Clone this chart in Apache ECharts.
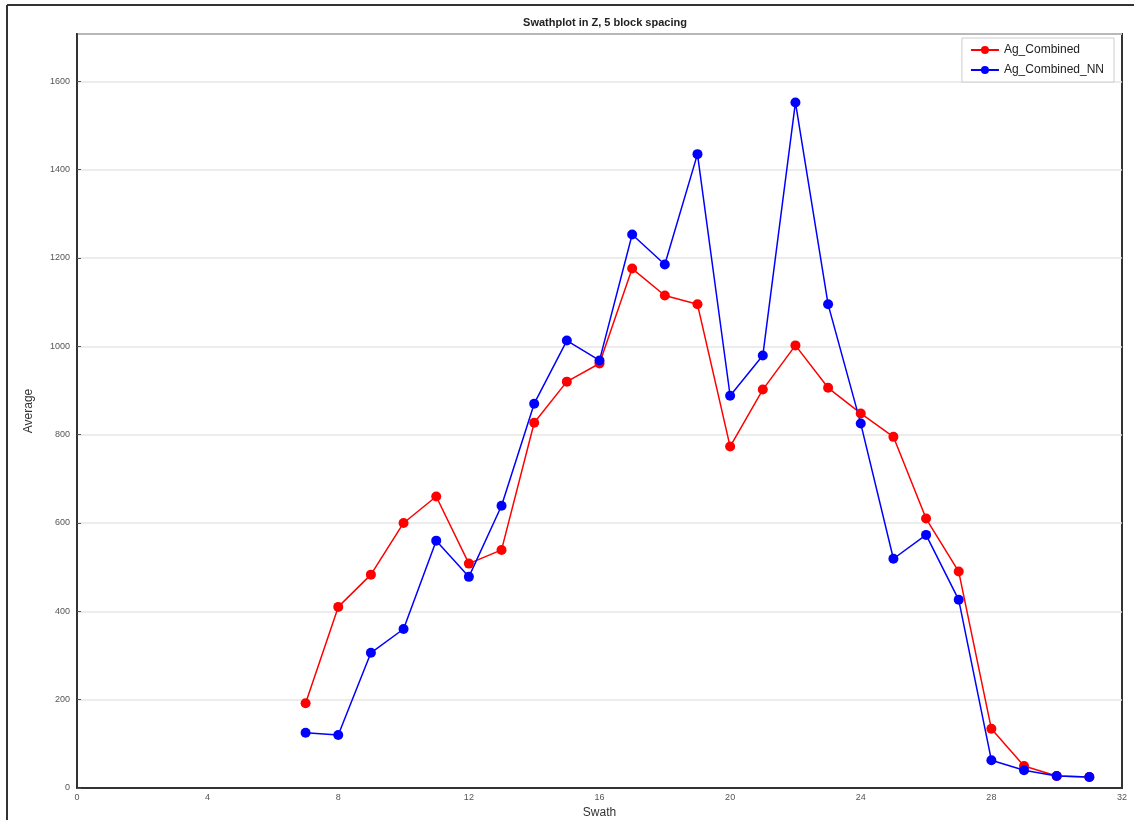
<!DOCTYPE html>
<html>
<head>
<meta charset="utf-8">
<script src="https://cdn.jsdelivr.net/npm/echarts@6/dist/echarts.min.js"></script>
<style>
html,body{margin:0;padding:0;background:#fff;}
#main{width:1134px;height:820px;}
</style>
</head>
<body>
<div id="main"></div>
<script>
const swath = [7,8,9,10,11,12,13,14,15,16,17,18,19,20,21,22,23,24,25,26,27,28,29,30,31];
const agCombined = [192,410,483,600,660,508,539,827,920,961,1176,1115,1095,773,902,1002,906,848,795,610,490,134,50,27,25];
const agCombinedNN = [125,120,306,360,560,478,639,870,1013,968,1253,1185,1435,888,979,1552,1095,825,519,573,426,63,40,27,25];
const xTicks = [0,4,8,12,16,20,24,28,32];
const yTicks = [0,200,400,600,800,1000,1200,1400,1600];

const chart = echarts.init(document.getElementById('main'), null, {renderer:'canvas'});
const pairs = (xs, ys) => xs.map((x,i)=>[x, ys[i]]);
const font = 'Liberation Sans, Arial, sans-serif';
chart.setOption({
  animation:false,
  backgroundColor:'#fff',
  title:{
    text:'Swathplot in Z, 5 block spacing',
    left:600, textAlign:'center', top:12,
    textStyle:{fontSize:11,fontWeight:'bold',color:'#222',fontFamily:font}
  },
  legend:{
    orient:'vertical', right:20, top:38,
    itemWidth:28, itemHeight:10, itemGap:8,
    padding:[6,10,6,8],
    borderColor:'#ccc', borderWidth:1,
    backgroundColor:'#fff',
    textStyle:{fontSize:12,color:'#222',fontFamily:font},
    data:['Ag_Combined','Ag_Combined_NN']
  },
  grid:{left:77,right:12,top:34,bottom:32,show:true,borderColor:'#333',borderWidth:2,outerBoundsMode:'none',containLabel:false},
  xAxis:{
    type:'value', min:0, max:32, interval:4,
    name:'Swath', nameLocation:'middle', nameGap:19,
    nameTextStyle:{fontSize:12,color:'#333',fontFamily:font},
    axisLine:{lineStyle:{color:'#333',width:2}},
    axisTick:{show:false},
    axisLabel:{fontSize:9,color:'#555',margin:5,fontFamily:font,formatter:v=>String(v)},
    splitLine:{show:false}
  },
  yAxis:{
    type:'value', min:0, max:1707, interval:200,
    name:'Average', nameLocation:'middle', nameGap:42, nameRotate:90,
    nameTextStyle:{fontSize:12,color:'#333',fontFamily:font},
    axisLine:{lineStyle:{color:'#333',width:2}},
    axisTick:{show:true,inside:true,length:4,lineStyle:{color:'#555'}},
    axisLabel:{fontSize:9,color:'#555',margin:7,showMaxLabel:false,fontFamily:font,formatter:v=>String(v)},
    splitLine:{show:true,lineStyle:{color:'#e6e6e6',width:1.5}}
  },
  series:[
    {name:'Ag_Combined',type:'line',data:pairs(swath,agCombined),
     symbol:'circle',symbolSize:10,lineStyle:{color:'#ff0000',width:1.5},
     itemStyle:{color:'#ff0000'}},
    {name:'Ag_Combined_NN',type:'line',data:pairs(swath,agCombinedNN),
     symbol:'circle',symbolSize:10,lineStyle:{color:'#0000ff',width:1.5},
     itemStyle:{color:'#0000ff'}}
  ],
  graphic:[
    {type:'line',shape:{x1:7,y1:5,x2:1134,y2:5},style:{stroke:'#333',lineWidth:2}},
    {type:'line',shape:{x1:7,y1:5,x2:7,y2:820},style:{stroke:'#333',lineWidth:2}}
  ]
});
</script>
</body>
</html>
